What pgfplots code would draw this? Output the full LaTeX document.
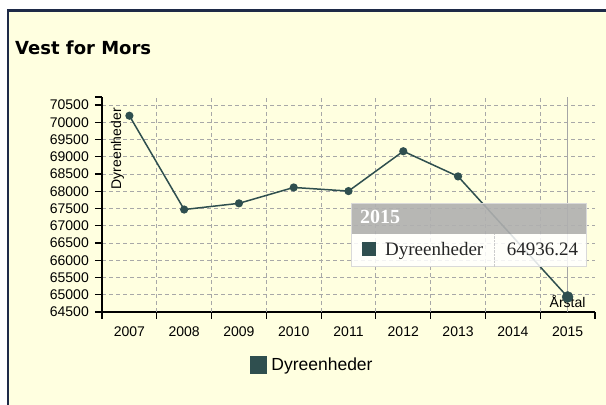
\documentclass[border=0pt]{standalone}
\usepackage{pgfplots}
\pgfplotsset{compat=1.18}
\usepackage{fontspec}
\setmainfont{Liberation Sans}
\newfontfamily\serf{Liberation Serif}
\newfontfamily\djv{DejaVu Sans}
\definecolor{dslate}{HTML}{2F4F4F}
\definecolor{bgy}{HTML}{FFFFE0}
\definecolor{navy2}{HTML}{1E2A48}
\definecolor{gridc}{HTML}{A8A8A8}
\begin{document}
\begin{tikzpicture}
\useasboundingbox (0,0) rectangle (606bp,405bp);
\fill[white] (0,0) rectangle (606bp,405bp);
\fill[bgy] (8bp,0) rectangle (606bp,395bp);
\draw[navy2, line width=2.5bp] (7bp,394.5bp) -- (606bp,394.5bp);
\draw[navy2, line width=2bp] (8bp,0) -- (8bp,395.5bp);
\node[anchor=base west, inner sep=0pt, font=\djv\bfseries\fontsize{18bp}{21bp}\selectfont] at (15bp,350bp) {Vest for Mors};
\begin{axis}[
 at={(102bp,93bp)}, anchor=south west,
 scale only axis, width=493bp, height=215bp,
 xmin=-0.5, xmax=8.5, ymin=64500, ymax=70732,
 axis x line*=bottom, axis y line*=left,
 axis line style={black, line width=1.5bp},
 xtick={-0.5,0.5,...,8.5},
 x tick label as interval,
 xticklabels={2007,2008,2009,2010,2011,2012,2013,2014,2015},
 extra x ticks={0.5,1.5,...,7.5},
 extra x tick labels={},
 extra x tick style={grid=major},
 ytick={64500,65000,...,70500},
 extra y ticks={70732}, extra y tick labels={}, extra y tick style={grid=none},
 ymajorgrids,
 grid style={gridc, dash pattern=on 4bp off 3bp, line width=0.8bp},
 tick align=outside,
 major tick length=7bp,
 tick style={black, line width=1.2bp},
 scaled y ticks=false,
 /pgf/number format/assume math mode=true,
 yticklabel style={/pgf/number format/1000 sep={}, inner sep=0pt, xshift=-6bp, font=\fontsize{14bp}{16bp}\selectfont},
 xticklabel style={inner sep=0pt, yshift=-8bp, font=\fontsize{14bp}{16bp}\selectfont},
 legend style={at={(0.3002,-0.2465)}, anchor=west, draw=none, fill=none, inner sep=0pt, font=\fontsize{17.5bp}{20bp}\selectfont, nodes={inner sep=2bp}},
 legend image code/.code={\fill[dslate] (0bp,-7.85bp) rectangle (15.7bp,7.85bp);},
]
\addplot[gray!70, line width=1bp, forget plot] coordinates {(8,64500) (8,70732)};
\addplot[dslate, line width=1.5bp, mark=*, mark size=3.3bp, mark options={solid}] coordinates {
 (0,70190) (1,67470) (2,67650) (3,68110) (4,68005) (5,69160) (6,68430) (8,64936.24)};
\addlegendentry{\hspace{2bp}Dyreenheder}
\addplot[dslate, only marks, mark=*, mark size=5.5bp, forget plot] coordinates {(8,64936.24)};
\node[font=\fontsize{14bp}{16bp}\selectfont] at (axis cs:8,64800) {Årstal};
\end{axis}
\node[rotate=90, anchor=north east, inner sep=0pt, font=\fontsize{14bp}{16bp}\selectfont] at (110.7bp,297bp) {Dyreenheder};
\fill[white, opacity=0.85] (351.7bp,138.3bp) rectangle (586.7bp,170.7bp);
\fill[gray!62, opacity=0.9] (351.7bp,170.7bp) rectangle (586.7bp,201.7bp);
\draw[gray!30, line width=1bp] (351.7bp,138.3bp) rectangle (586.7bp,201.7bp);
\draw[gray!40, densely dotted] (494bp,138.3bp) -- (494bp,170.7bp);
\fill[dslate] (361.7bp,149bp) rectangle (376bp,163.3bp);
\node[anchor=base west, inner sep=0pt, text=white, font=\serf\bfseries\fontsize{20bp}{22bp}\selectfont] at (360bp,181bp) {2015};
\node[anchor=base west, inner sep=0pt, text=black!85, font=\serf\fontsize{19bp}{22bp}\selectfont] at (385bp,149bp) {Dyreenheder};
\node[anchor=base east, inner sep=0pt, text=black!85, font=\serf\fontsize{19bp}{22bp}\selectfont] at (578.3bp,149bp) {64936.24};
\end{tikzpicture}
\end{document}
